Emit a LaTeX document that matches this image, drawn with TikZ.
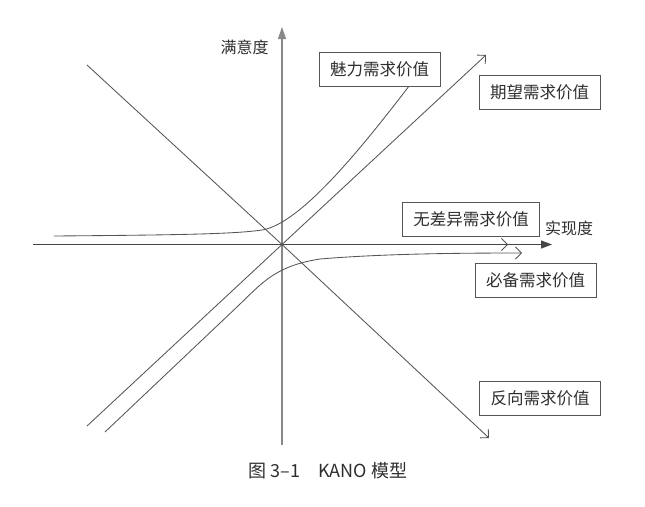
\documentclass[tikz,border=0pt]{standalone}
\usepackage{fontspec}
\newfontfamily\cjk{Noto Sans CJK SC}
\usetikzlibrary{arrows.meta,calc}
\definecolor{txt}{HTML}{2E2E2E}
\definecolor{ln}{HTML}{555555}
\definecolor{vax}{HTML}{888888}
\definecolor{hax}{HTML}{454545}
\tikzset{
  valbox/.style={draw=ln, line width=0.9pt, text=txt, font=\cjk\fontsize{16.5}{17}\selectfont,
    minimum height=34pt, inner xsep=11pt, inner ysep=0pt, anchor=center},
  axlabel/.style={text=txt, font=\cjk\fontsize{16}{17}\selectfont, inner sep=0pt},
  curve/.style={draw=ln, line width=0.85pt},
  openarr/.style={-{Straight Barb[length=6pt,width=12pt,line width=0.85pt]}},
}
\begin{document}
\begin{tikzpicture}[x=1pt,y=-1pt]
\useasboundingbox (0,0) rectangle (645,506);
% coordinates
\coordinate (O) at (282,244.5);
\coordinate (vbot) at (282,445);
\coordinate (vtop) at (282,27);
\coordinate (hleft) at (33,244.5);
\coordinate (hright) at (552,244.5);
\coordinate (indiffend) at (508,244.5);
\coordinate (revstart) at (87,65);
\coordinate (revend) at (489,438);
\coordinate (expstart) at (87,426);
\coordinate (expend) at (486,55);
\coordinate (muststart) at (105,432);
\coordinate (mustend) at (522,253);
\coordinate (attstart) at (54,236);
% boxes
\node[valbox] (att) at (379.5,69) {魅力需求价值};
\node[valbox] (exp) at (539.5,92) {期望需求价值};
\node[valbox] (ind) at (471,219) {无差异需求价值};
\node[valbox] (must) at (535.5,280) {必备需求价值};
\node[valbox] (rev) at (540,398.5) {反向需求价值};
% axis labels
\node[axlabel] (ylab) at (244.5,47) {满意度};
\node[axlabel] (xlab) at (569,228) {实现度};
% caption
\node[text=txt, font=\cjk\fontsize{18}{19}\selectfont, inner sep=0pt] (cap) at (328,471) {图 3–1\hspace{1em}KANO 模型};
% axes
\draw[draw=vax, line width=1.1pt, -{Triangle[length=12pt,width=8pt]}] (vbot) -- (vtop);
\draw[curve, openarr] (hleft) -- (indiffend);
\draw[draw=hax, line width=1.3pt, -{Triangle[length=11pt,width=8pt]}] (hleft) -- (hright);
% diagonals
\draw[curve, openarr] (revstart) -- (O) -- (revend);
\draw[curve, openarr] (expstart) -- (O) -- (expend);
% must-be curve
\draw[curve, openarr] (muststart) -- (238,306) .. controls (262,283) and (275,266) .. (320,259) .. controls (380,254) and (450,253) .. (mustend);
% attractive curve
\draw[curve] (attstart) .. controls (180,235) and (235,234) .. (262,230) .. controls (300,224) and (360,150) .. ($(att.south west)!0.74!(att.south east)$);
\end{tikzpicture}
\end{document}
